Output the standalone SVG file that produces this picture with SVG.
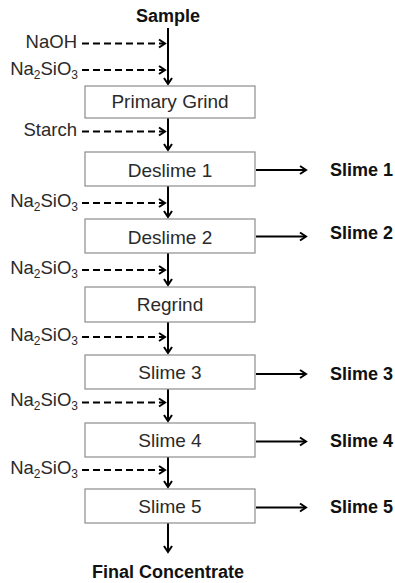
<svg xmlns="http://www.w3.org/2000/svg" width="395" height="583" viewBox="0 0 395 583">
<style>
.box{fill:#fff;stroke:#8c8c8c;stroke-width:1.2}
.lbl{font-family:"Liberation Sans",Arial,sans-serif;font-size:19px;fill:#2a2a2a;text-anchor:middle}
.rg{font-family:"Liberation Sans",Arial,sans-serif;font-size:18.5px;fill:#2a2a2a;text-anchor:end}
.out{font-family:"Liberation Sans",Arial,sans-serif;font-size:18px;font-weight:bold;fill:#111}
.sub{font-size:12px}
.main{stroke:#000;stroke-width:2;fill:none;marker-end:url(#ah)}
.dash{stroke:#000;stroke-width:2;fill:none;stroke-dasharray:7 4;marker-end:url(#ah)}
</style>
<defs>
<marker id="ah" markerUnits="userSpaceOnUse" markerWidth="12" markerHeight="12" refX="7" refY="5" orient="auto" viewBox="0 0 12 10">
<path d="M1,1 L7,5 L1,9" fill="none" stroke="#000" stroke-width="2"/>
</marker>
</defs>
<g id="connectors">
<path class="main" d="M168,28 V84"/>
<path class="main" d="M168,118 V150"/>
<path class="main" d="M168,185 V217"/>
<path class="main" d="M168,252 V285"/>
<path class="main" d="M168,320 V353"/>
<path class="main" d="M168,388 V421"/>
<path class="main" d="M168,456 V487"/>
<path class="main" d="M168,523 V552"/>
<path class="dash" d="M82,43.5 H165"/>
<path class="dash" d="M82,70 H165"/>
<path class="dash" d="M82,131.5 H165"/>
<path class="dash" d="M82,203 H165"/>
<path class="dash" d="M82,270 H165"/>
<path class="dash" d="M82,337 H165"/>
<path class="dash" d="M82,402.5 H165"/>
<path class="dash" d="M82,470 H165"/>
<path class="main" d="M256,170 H306"/>
<path class="main" d="M256,236.5 H306"/>
<path class="main" d="M256,374 H306"/>
<path class="main" d="M256,441.5 H306"/>
<path class="main" d="M256,507.5 H306"/>
</g>
<g id="sample"><text class="out" x="168" y="22" text-anchor="middle">Sample</text></g>
<g id="naoh"><text class="rg" x="77" y="48">NaOH</text></g>
<g id="silicate0"><text class="rg" x="78" y="75">Na<tspan class="sub" dy="4">2</tspan><tspan dy="-4">SiO</tspan><tspan class="sub" dy="4">3</tspan></text></g>
<g id="primary-grind"><rect class="box" x="85" y="86" width="170" height="32"/><text class="lbl" x="170" y="108">Primary Grind</text></g>
<g id="starch"><text class="rg" x="77" y="136">Starch</text></g>
<g id="deslime1"><rect class="box" x="85" y="152" width="170" height="34"/><text class="lbl" x="170" y="176.5">Deslime 1</text></g>
<g id="slime1-out"><text class="out" x="330" y="176">Slime 1</text></g>
<g id="silicate1"><text class="rg" x="78" y="207">Na<tspan class="sub" dy="4">2</tspan><tspan dy="-4">SiO</tspan><tspan class="sub" dy="4">3</tspan></text></g>
<g id="deslime2"><rect class="box" x="85" y="219" width="170" height="34"/><text class="lbl" x="170" y="243.5">Deslime 2</text></g>
<g id="slime2-out"><text class="out" x="330" y="239">Slime 2</text></g>
<g id="silicate2"><text class="rg" x="78" y="274">Na<tspan class="sub" dy="4">2</tspan><tspan dy="-4">SiO</tspan><tspan class="sub" dy="4">3</tspan></text></g>
<g id="regrind"><rect class="box" x="85" y="287" width="170" height="35"/><text class="lbl" x="170" y="311">Regrind</text></g>
<g id="silicate3"><text class="rg" x="78" y="341">Na<tspan class="sub" dy="4">2</tspan><tspan dy="-4">SiO</tspan><tspan class="sub" dy="4">3</tspan></text></g>
<g id="slime3"><rect class="box" x="85" y="355" width="170" height="34"/><text class="lbl" x="170" y="378.5">Slime 3</text></g>
<g id="slime3-out"><text class="out" x="330" y="379.5">Slime 3</text></g>
<g id="silicate4"><text class="rg" x="78" y="406">Na<tspan class="sub" dy="4">2</tspan><tspan dy="-4">SiO</tspan><tspan class="sub" dy="4">3</tspan></text></g>
<g id="slime4"><rect class="box" x="85" y="423" width="170" height="34"/><text class="lbl" x="170" y="446.5">Slime 4</text></g>
<g id="slime4-out"><text class="out" x="330" y="446.5">Slime 4</text></g>
<g id="silicate5"><text class="rg" x="78" y="474">Na<tspan class="sub" dy="4">2</tspan><tspan dy="-4">SiO</tspan><tspan class="sub" dy="4">3</tspan></text></g>
<g id="slime5"><rect class="box" x="85" y="489" width="170" height="34"/><text class="lbl" x="170" y="512.5">Slime 5</text></g>
<g id="slime5-out"><text class="out" x="330" y="512.5">Slime 5</text></g>
<g id="final"><text class="out" x="168" y="578" text-anchor="middle">Final Concentrate</text></g>
</svg>
